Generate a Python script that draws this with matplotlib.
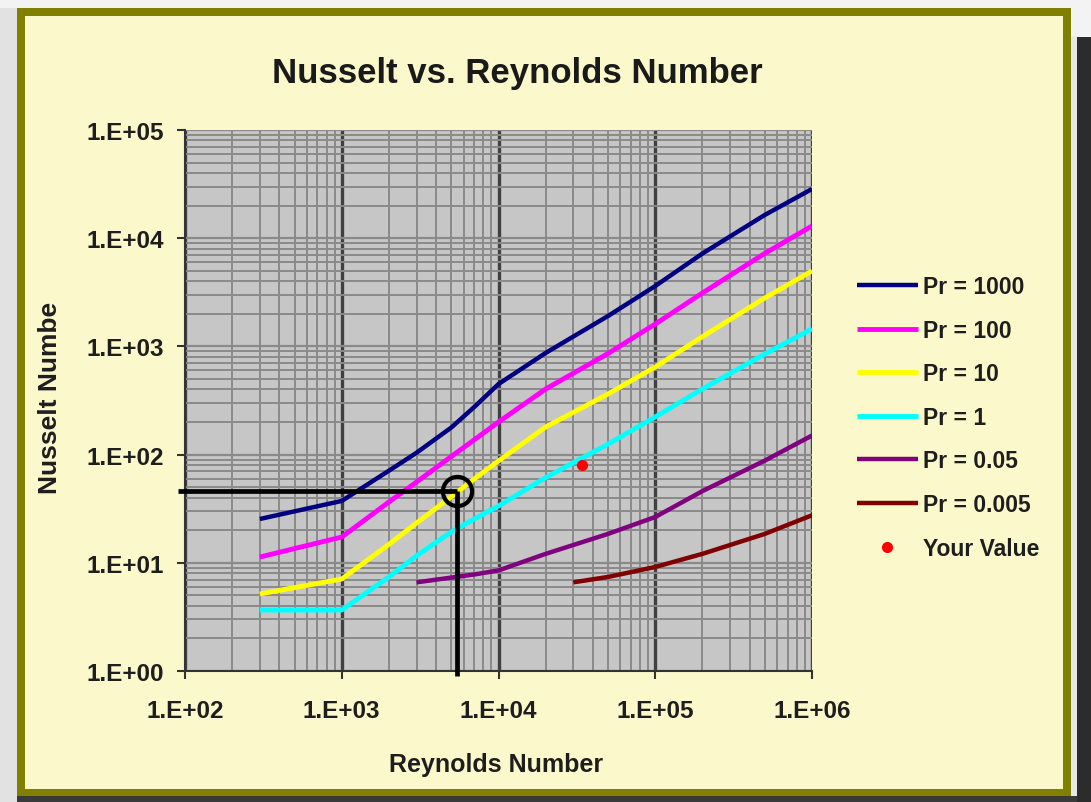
import matplotlib
matplotlib.use("Agg")
import matplotlib.pyplot as plt
from matplotlib.patches import Rectangle
from matplotlib.ticker import FixedLocator, LogLocator, NullFormatter

FONT = ['Liberation Sans', 'DejaVu Sans']
plt.rcParams['font.family'] = FONT

# ---------------- data ----------------
title = "Nusselt vs. Reynolds Number"
x_label = "Reynolds Number"
y_label = "Nusselt Numbe"

x_ticks = [1e2, 1e3, 1e4, 1e5, 1e6]
x_tick_labels = ["1.E+02", "1.E+03", "1.E+04", "1.E+05", "1.E+06"]
y_ticks = [1e0, 1e1, 1e2, 1e3, 1e4, 1e5]
y_tick_labels = ["1.E+00", "1.E+01", "1.E+02", "1.E+03", "1.E+04", "1.E+05"]

re_main = [300, 1000, 2000, 3000, 5000, 7000, 1e4, 2e4, 5e4, 1e5, 2e5, 5e5, 1e6]
nu_pr1000 = [25.4, 37.3, 71, 104, 178, 275, 449, 870, 1910, 3615, 7220, 16400, 28500]
nu_pr100 = [11.3, 17.3, 36.5, 55.8, 96, 137, 200, 404, 860, 1610, 3115, 7240, 12970]
nu_pr10 = [5.15, 7.08, 14.8, 23.3, 40.8, 59.5, 87.3, 180, 363, 645, 1230, 2800, 4980]
nu_pr1 = [3.66, 3.66, 7.39, 11.6, 19.3, 25.4, 33.5, 61.3, 125, 223, 404, 851, 1450]

re_pr005 = [3000, 5000, 7000, 1e4, 2e4, 5e4, 1e5, 2e5, 5e5, 1e6]
nu_pr005 = [6.6, 7.3, 7.8, 8.5, 12.1, 18.5, 26.5, 46, 88, 150]

re_pr0005 = [3e4, 5e4, 1e5, 2e5, 5e5, 1e6]
nu_pr0005 = [6.6, 7.4, 9.15, 12.1, 18.5, 27.5]

your_re = [34000]
your_nu = [80]

annot_re = 5400
annot_nu = 46

series = [
    ("Pr = 1000", re_main, nu_pr1000, "#000080", 3.2),
    ("Pr = 100", re_main, nu_pr100, "#FF00FF", 3.5),
    ("Pr = 10", re_main, nu_pr10, "#FFFF00", 3.5),
    ("Pr = 1", re_main, nu_pr1, "#00FFFF", 3.5),
    ("Pr = 0.05", re_pr005, nu_pr005, "#800080", 3.2),
    ("Pr = 0.005", re_pr0005, nu_pr0005, "#800000", 3.2),
]

# ---------------- figure ----------------
W, H = 1091, 803
fig = plt.figure(figsize=(W / 100, H / 100), dpi=100)
fig.patch.set_facecolor("#FBF9CB")


def prect(x0, y0, x1, y1, color, z=0):
    """rectangle given in pixel coords from top-left"""
    fig.add_artist(Rectangle((x0 / W, 1 - y1 / H), (x1 - x0) / W, (y1 - y0) / H,
                             transform=fig.transFigure, facecolor=color,
                             edgecolor='none', zorder=z))


# outer surroundings
prect(0, 0, 17, H, "#e2e2e2")
prect(0, 0, W, 9, "#f3f3f3")
prect(1071, 0, W, 38, "#f3f3f3")
prect(1071, 38, 1077, H, "#e8e8e8")
prect(1077, 38, W, H, "#2c2c2c")
prect(17, 797, 1077, H, "#3a3a3a")
# olive frame
olive = "#808000"
prect(17, 9, 1071, 17, olive)
prect(17, 790, 1071, 797, olive)
prect(17, 9, 25, 797, olive)
prect(1063, 9, 1071, 797, olive)

ax = fig.add_axes([185 / W, 1 - 672 / H, (812 - 185) / W, (672 - 131) / H])
ax.set_facecolor("#C6C6C6")
ax.set_xscale("log")
ax.set_yscale("log")
ax.set_xlim(1e2, 1e6)
ax.set_ylim(1e0, 1e5)

ax.xaxis.set_major_locator(FixedLocator(x_ticks))
ax.yaxis.set_major_locator(FixedLocator(y_ticks))
ax.set_xticklabels(x_tick_labels)
ax.set_yticklabels(y_tick_labels)
ax.xaxis.set_minor_locator(LogLocator(base=10, subs=range(2, 10), numticks=20))
ax.yaxis.set_minor_locator(LogLocator(base=10, subs=range(2, 10), numticks=20))
ax.xaxis.set_minor_formatter(NullFormatter())
ax.yaxis.set_minor_formatter(NullFormatter())

ax.grid(which="minor", color="#8a8a8a", linewidth=1.4)
ax.grid(which="major", axis="y", color="#8a8a8a", linewidth=1.6)
ax.grid(which="major", axis="x", color="#404040", linewidth=2.4)
ax.set_axisbelow(True)

for s in ("top", "right"):
    ax.spines[s].set_visible(False)
for s in ("left", "bottom"):
    ax.spines[s].set_color("#333333")
    ax.spines[s].set_linewidth(1.5)

ax.tick_params(which="major", direction="out", length=6, width=1.5, color="#333333",
               labelsize=17.5, labelcolor="#1e1e1e")
ax.tick_params(axis="y", which="major", pad=9)
ax.tick_params(axis="x", which="major", pad=14)
ax.tick_params(which="minor", length=0)
for lab in ax.get_xticklabels() + ax.get_yticklabels():
    lab.set_fontweight("bold")

handles = []
for name, xs, ys, col, lw in series:
    h, = ax.plot(xs, ys, color=col, linewidth=lw, label=name, zorder=3,
                 solid_capstyle="butt")
    handles.append(h)

hv, = ax.plot(your_re, your_nu, linestyle="none", marker="o", markersize=7,
              color="#FF0000", label="Your Value", zorder=4)
handles.append(hv)

# annotation lines and circle
ax.plot([90, annot_re], [annot_nu, annot_nu], color="black", linewidth=3.4,
        clip_on=False, zorder=5, solid_capstyle="butt")
ax.plot([annot_re, annot_re], [annot_nu, 0.9], color="black", linewidth=3.4,
        clip_on=False, zorder=5, solid_capstyle="butt")
ax.plot([annot_re], [annot_nu], marker="o", markersize=21, markerfacecolor="none",
        markeredgecolor="black", markeredgewidth=3, linestyle="none", zorder=6)

leg = fig.legend(handles=handles, loc="upper left",
                 bbox_to_anchor=(857 / W, 1 - 276 / H), frameon=False,
                 prop={"family": FONT, "weight": "bold", "size": 16.5},
                 handlelength=2.65, handletextpad=0.22, labelspacing=0.9,
                 borderpad=0, borderaxespad=0)
for t in leg.get_texts():
    t.set_color("#1e1e1e")

fig.text(517 / W, 1 - 73 / H, title, ha="center", va="center", fontsize=25,
         fontweight="bold", color="#1a1a1a")
fig.text(496 / W, 1 - 765 / H, x_label, ha="center", va="center", fontsize=18,
         fontweight="bold", color="#1e1e1e")
fig.text(50 / W, 1 - 398 / H, y_label, ha="center", va="center", fontsize=19,
         fontweight="bold", rotation=90, color="#1e1e1e")

fig.savefig("out.png", dpi=100, facecolor=fig.get_facecolor())
